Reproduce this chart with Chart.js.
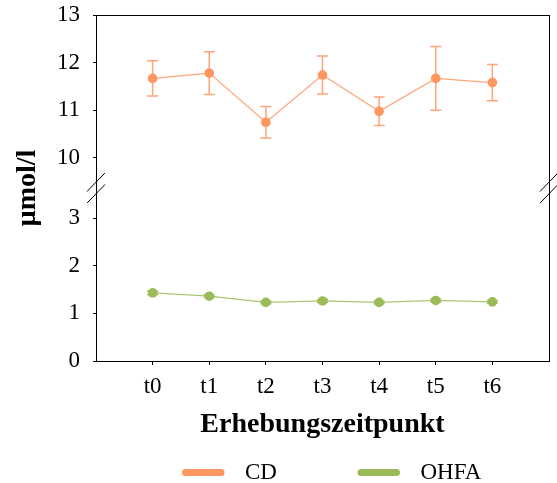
<!DOCTYPE html>
<html>
<head>
<meta charset="utf-8">
<script src="https://cdn.jsdelivr.net/npm/chart.js@4/dist/chart.umd.min.js"></script>
<style>
  html, body { margin: 0; padding: 0; background: #fff; }
</style>
</head>
<body>
<canvas id="c" width="557" height="483"></canvas>
<script>
// Measurement times
const labels = ['t0', 't1', 't2', 't3', 't4', 't5', 't6'];

// CD concentrations (µmol/l) with error ranges
const cdMean = [11.67, 11.78, 10.75, 11.74, 10.98, 11.67, 11.58];
const cdErr  = [0.37, 0.45, 0.33, 0.40, 0.30, 0.67, 0.38];

// OHFA concentrations (µmol/l) with error ranges
const ohfaMean = [1.43, 1.36, 1.23, 1.26, 1.23, 1.27, 1.24];
const ohfaErr  = [0.04, 0.03, 0.03, 0.03, 0.03, 0.03, 0.03];

// Axis ranges of the two panels of the broken value axis
const upperRange = [9.37, 13];
const lowerRange = [0, 3.63];

const ORANGE = '#FF955F';
const GREEN = '#9BBB59';
const SERIF = '"Liberation Serif", "Times New Roman", serif';

const toPoints = arr => arr.map((v, i) => ({ x: i, y: v }));

// Fixes an axis box size and drops the extra padding reserved for edge labels
const fixSize = (w, h) => s => {
  if (w !== null) s.width = w;
  if (h !== null) s.height = h;
  s.paddingTop = 0; s.paddingBottom = 0; s.paddingLeft = 0; s.paddingRight = 0;
};

// Error bars, drawn through each dataset's own scales
const errorBars = {
  id: 'errorBars',
  beforeDatasetsDraw(chart) {
    const ctx = chart.ctx;
    const xs = chart.scales.x;
    chart.data.datasets.forEach(ds => {
      const ys = chart.scales[ds.yAxisID];
      ctx.save();
      ctx.strokeStyle = ds.errColor;
      ctx.lineWidth = 1.5;
      ds.data.forEach((p, i) => {
        const e = ds.errors[i];
        const px = xs.getPixelForValue(p.x);
        const y1 = ys.getPixelForValue(p.y + e);
        const y2 = ys.getPixelForValue(p.y - e);
        ctx.beginPath();
        ctx.moveTo(px, y1); ctx.lineTo(px, y2);
        ctx.moveTo(px - 5.5, y1); ctx.lineTo(px + 5.5, y1);
        ctx.moveTo(px - 5.5, y2); ctx.lineTo(px + 5.5, y2);
        ctx.stroke();
      });
      ctx.restore();
    });
  }
};

// Break marks where the two panels of the value axis meet, plus the legend
const decorations = {
  id: 'decorations',
  afterDraw(chart) {
    const ctx = chart.ctx;
    const area = chart.chartArea;
    const yb = chart.scales.yLower.top;
    ctx.save();
    ctx.strokeStyle = '#000';
    ctx.lineWidth = 1;
    [area.left, area.right].forEach(cx => {
      [-5.8, 5.8].forEach(dy => {
        ctx.beginPath();
        ctx.moveTo(cx - 9, yb + dy + 9.3);
        ctx.lineTo(cx + 9, yb + dy - 9.3);
        ctx.stroke();
      });
    });

    // legend
    const ly = 472.5;
    const items = [
      { ds: chart.data.datasets[0], x: 182 },
      { ds: chart.data.datasets[1], x: 357.5 }
    ];
    ctx.font = '23px ' + SERIF;
    ctx.textBaseline = 'middle';
    ctx.textAlign = 'left';
    items.forEach(it => {
      ctx.strokeStyle = it.ds.backgroundColor;
      ctx.lineWidth = 7;
      ctx.lineCap = 'round';
      ctx.beginPath();
      ctx.moveTo(it.x + 3.5, ly);
      ctx.lineTo(it.x + 39, ly);
      ctx.stroke();
      ctx.fillStyle = '#000';
      ctx.fillText(it.ds.label, it.x + 63, ly);
    });
    ctx.restore();
  }
};

const tickFont = { family: SERIF, size: 23 };
const frameAxis = {
  display: true,
  ticks: { display: false },
  grid: { display: false, drawTicks: false },
  border: { display: true, color: '#000', width: 1 }
};

new Chart(document.getElementById('c'), {
  type: 'line',
  data: {
    datasets: [
      {
        label: 'CD',
        data: toPoints(cdMean),
        errors: cdErr,
        errColor: 'rgba(255,149,95,0.85)',
        yAxisID: 'yUpper',
        borderColor: 'rgba(255,149,95,0.85)',
        backgroundColor: ORANGE,
        borderWidth: 1.2,
        pointRadius: 4.8,
        pointBorderWidth: 0,
        pointBackgroundColor: ORANGE
      },
      {
        label: 'OHFA',
        data: toPoints(ohfaMean),
        errors: ohfaErr,
        errColor: 'rgba(155,187,89,0.9)',
        yAxisID: 'yLower',
        borderColor: 'rgba(155,187,89,0.85)',
        backgroundColor: GREEN,
        borderWidth: 1.2,
        pointRadius: 4.8,
        pointBorderWidth: 0,
        pointBackgroundColor: GREEN
      }
    ]
  },
  options: {
    responsive: false,
    animation: false,
    layout: { padding: { top: 15, right: 8, bottom: 41, left: 0 } },
    plugins: { legend: { display: false }, tooltip: { enabled: false } },
    scales: {
      x: {
        type: 'linear',
        position: 'bottom',
        min: -1,
        max: 7,
        afterFit: fixSize(null, 81),
        ticks: {
          stepSize: 1,
          font: tickFont,
          color: '#000',
          padding: 8,
          maxRotation: 0,
          autoSkip: false,
          callback: v => labels[v] ?? ''
        },
        grid: {
          drawOnChartArea: false,
          tickLength: 4,
          tickColor: c => (c.tick && labels[c.tick.value] !== undefined) ? '#000' : 'rgba(0,0,0,0)'
        },
        border: { color: '#000', width: 1 },
        title: {
          display: true,
          text: 'Erhebungszeitpunkt',
          color: '#000',
          font: { family: SERIF, size: 28, weight: 'bold' },
          padding: { top: 8, bottom: 0 }
        }
      },
      xTop: Object.assign({ type: 'linear', position: 'top', min: 0, max: 1, afterFit: fixSize(null, 0) }, frameAxis),
      yRight: Object.assign({ type: 'linear', position: 'right', min: 0, max: 1, afterFit: fixSize(0, null) }, frameAxis),
      yTitle: {
        type: 'linear',
        position: 'left',
        weight: 10,
        min: 0,
        max: 1,
        afterFit: fixSize(40, null),
        ticks: { display: false },
        grid: { display: false, drawTicks: false },
        border: { display: false },
        title: {
          display: true,
          text: 'µmol/l',
          color: '#000',
          font: { family: SERIF, size: 28, weight: 'bold' },
          padding: { top: 11, bottom: 0 }
        }
      },
      yUpper: {
        type: 'linear',
        position: 'left',
        stack: 'value',
        stackWeight: 1,
        weight: 2,
        min: upperRange[0],
        max: upperRange[1],
        afterFit: fixSize(56, null),
        ticks: { stepSize: 1, includeBounds: false, font: tickFont, color: '#000', padding: 13 },
        grid: { drawOnChartArea: false, tickLength: 3, tickColor: '#000' },
        border: { color: '#000', width: 1 }
      },
      yLower: {
        type: 'linear',
        position: 'left',
        stack: 'value',
        stackWeight: 1,
        weight: 1,
        min: lowerRange[0],
        max: lowerRange[1],
        afterFit: fixSize(56, null),
        ticks: { stepSize: 1, includeBounds: false, font: tickFont, color: '#000', padding: 13 },
        grid: { drawOnChartArea: false, tickLength: 3, tickColor: '#000' },
        border: { color: '#000', width: 1 }
      }
    }
  },
  plugins: [errorBars, decorations]
});
</script>
</body>
</html>
